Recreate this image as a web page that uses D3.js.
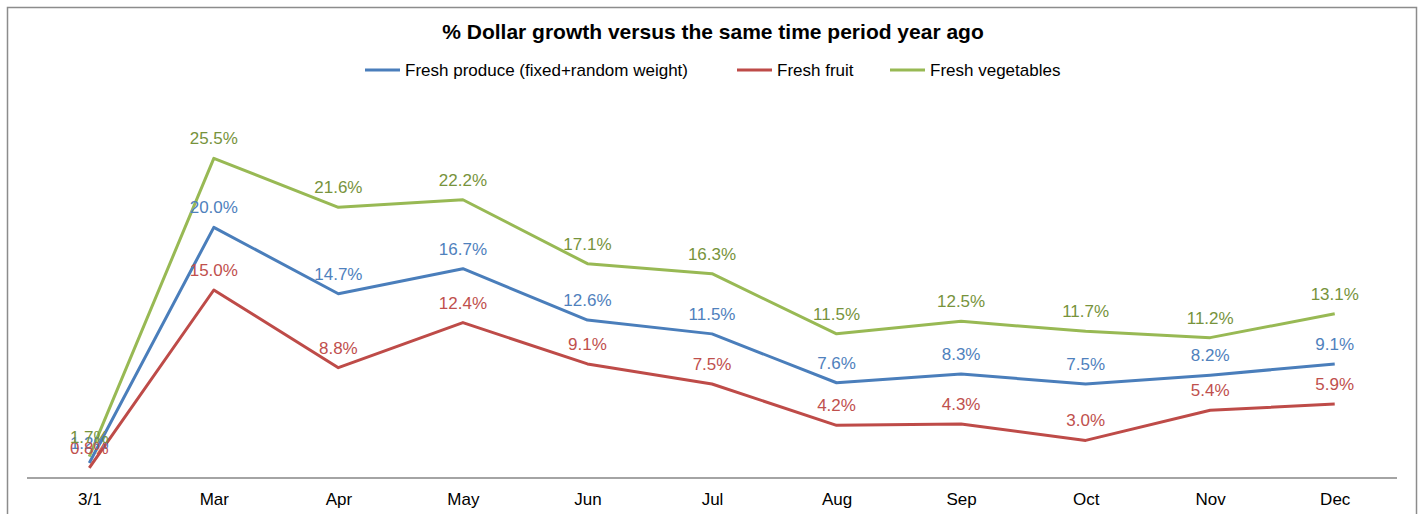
<!DOCTYPE html>
<html lang="en">
<head>
  <meta charset="UTF-8">
  <title>% Dollar growth versus the same time period year ago</title>
  <script src="https://cdn.jsdelivr.net/npm/d3@7"></script>
</head>
<style>
    body { margin: 0; background: #fff; }
    text { font-family: "Liberation Sans", Arial, sans-serif; }
    .title { font-size: 21px; font-weight: bold; fill: #000; }
    .legend text { font-size: 17px; fill: #000; }
    .axis text { font-size: 17px; fill: #000; }
    .lbl { font-size: 17px; }
</style>
<body>
<svg width="1420" height="514"></svg>
<script>
    // months on the x axis
    var categories = ["3/1", "Mar", "Apr", "May", "Jun", "Jul", "Aug", "Sep", "Oct", "Nov", "Dec"];

    // % dollar growth vs year ago
    var produce    = [1.2, 20.0, 14.7, 16.7, 12.6, 11.5, 7.6, 8.3, 7.5, 8.2, 9.1];
    var fruit      = [0.8, 15.0, 8.8, 12.4, 9.1, 7.5, 4.2, 4.3, 3.0, 5.4, 5.9];
    var vegetables = [1.7, 25.5, 21.6, 22.2, 17.1, 16.3, 11.5, 12.5, 11.7, 11.2, 13.1];

    var seriesNames = ["Fresh produce (fixed+random weight)", "Fresh fruit", "Fresh vegetables"];
    var lineColors  = ["#4A7EBB", "#BE4B48", "#98B954"];
    var labelColors = ["#4F81BD", "#C0504D", "#77933C"];

    var series = [produce, fruit, vegetables].map(function(vals, i) {
        return { name: seriesNames[i], line: lineColors[i], label: labelColors[i], values: vals };
    });

    var svg = d3.select("svg");

    // chart frame
    svg.append("rect")
        .attr("x", 7.5).attr("y", 7.5)
        .attr("width", 1409).attr("height", 520)
        .attr("fill", "none")
        .attr("stroke", "#8c8c8c")
        .attr("stroke-width", 1.5);

    var x = d3.scalePoint()
        .domain(categories)
        .range([27, 1397])
        .padding(0.5);

    var y = d3.scaleLinear()
        .domain([0, 30])
        .range([478, 102]);

    svg.append("text")
        .attr("class", "title")
        .attr("x", 713).attr("y", 39)
        .attr("text-anchor", "middle")
        .text("% Dollar growth versus the same time period year ago");

    // legend
    var legendX = [365, 737, 890];
    var legend = svg.append("g").attr("class", "legend");
    series.forEach(function(s, i) {
        legend.append("line")
            .attr("x1", legendX[i]).attr("x2", legendX[i] + 35)
            .attr("y1", 70).attr("y2", 70)
            .attr("stroke", s.line).attr("stroke-width", 3);
        legend.append("text")
            .attr("x", legendX[i] + 40).attr("y", 76)
            .text(s.name);
    });

    // x axis
    var axis = svg.append("g")
        .attr("class", "axis")
        .attr("transform", "translate(0," + y(0) + ")")
        .call(d3.axisBottom(x).tickSize(0).tickPadding(15));
    axis.select(".domain")
        .attr("d", "M27,0H1397")
        .attr("stroke", "#868686")
        .attr("stroke-width", 1.3);
    axis.selectAll("text").attr("font-family", null).attr("font-size", null);

    var line = d3.line()
        .x(function(d, i) { return x(categories[i]); })
        .y(function(d) { return y(d); });

    series.forEach(function(s) {
        svg.append("path")
            .datum(s.values)
            .attr("fill", "none")
            .attr("stroke", s.line)
            .attr("stroke-width", 3)
            .attr("stroke-linejoin", "round")
            .attr("d", line);
    });

    // data labels above points (the 3/1 ones overlap, as in the original)
    series.forEach(function(s) {
        svg.append("g").selectAll("text")
            .data(s.values)
            .enter().append("text")
              .attr("class", "lbl")
              .attr("x", function(d, i) { return x(categories[i]); })
              .attr("y", function(d) { return y(d) - 14; })
              .attr("text-anchor", "middle")
              .attr("fill", s.label)
              .text(function(d) { return d.toFixed(1) + "%"; });
    });
</script>
</body>
</html>
